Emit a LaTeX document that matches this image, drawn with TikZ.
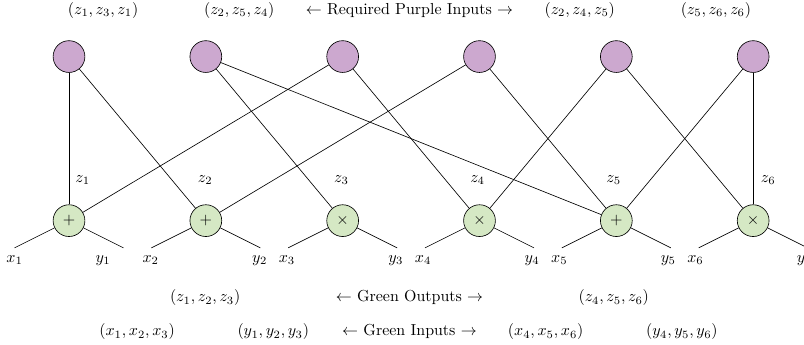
\documentclass[tikz,border=0pt]{standalone}
\usepackage{tikz}
\usetikzlibrary{positioning, calc}
\definecolor{pfill}{RGB}{204,168,207}
\definecolor{gfill}{RGB}{213,232,196}
\tikzset{
  pnode/.style ={draw, circle, fill=pfill, minimum size=0.7cm, inner sep=0pt},
  gnode/.style ={draw, circle, fill=gfill, minimum size=0.7cm, inner sep=0pt},
  lbl/.style   ={inner sep=1pt},
}
\begin{document}
\begin{tikzpicture}
  \useasboundingbox (-1.52,-2.72) rectangle (16.19,4.86);

  % green gates
  \node[gnode]                    (g1) at (0,0) {$+$};
  \node[gnode, right=2.3cm of g1] (g2) {$+$};
  \node[gnode, right=2.3cm of g2] (g3) {$\times$};
  \node[gnode, right=2.3cm of g3] (g4) {$\times$};
  \node[gnode, right=2.3cm of g4] (g5) {$+$};
  \node[gnode, right=2.3cm of g5] (g6) {$\times$};

  % purple inputs
  \node[pnode, above=2.9cm of g1] (p1) {};
  \node[pnode, above=2.9cm of g2] (p2) {};
  \node[pnode, above=2.9cm of g3] (p3) {};
  \node[pnode, above=2.9cm of g4] (p4) {};
  \node[pnode, above=2.9cm of g5] (p5) {};
  \node[pnode, above=2.9cm of g6] (p6) {};

  \node[lbl] (t1) at (0.75,4.63)  {$(z_1, z_3, z_1)$};
  \node[lbl] (t2) at (3.75,4.63)  {$(z_2, z_5, z_4)$};
  \node[lbl] (t3) at (7.5,4.63)   {$\leftarrow$ Required Purple Inputs $\rightarrow$};
  \node[lbl] (t4) at (11.25,4.63) {$(z_2, z_4, z_5)$};
  \node[lbl] (t5) at (14.25,4.63) {$(z_5, z_6, z_6)$};

  % wires
  \draw (p1) -- (g1);
  \draw (p1) -- (g2);
  \draw (p2) -- (g3);
  \draw (p2) -- (g5);
  \draw (p3) -- (g1);
  \draw (p3) -- (g4);
  \draw (p4) -- (g2);
  \draw (p4) -- (g5);
  \draw (p5) -- (g4);
  \draw (p5) -- (g6);
  \draw (p6) -- (g5);
  \draw (p6) -- (g6);

  \node[lbl] (z1) at (0.3,0.9)  {$z_1$};
  \node[lbl] (z2) at (3,0.9)    {$z_2$};
  \node[lbl] (z3) at (6,0.9)    {$z_3$};
  \node[lbl] (z4) at (9,0.9)    {$z_4$};
  \node[lbl] (z5) at (12,0.9)   {$z_5$};
  \node[lbl] (z6) at (15.4,0.9) {$z_6$};

  % legs of the gates
  \foreach \i in {1,...,6} {
    \coordinate (a\i) at ($(g\i)+(-1.2,-0.6)$);
    \coordinate (b\i) at ($(g\i)+(1.2,-0.6)$);
    \draw (g\i) -- (a\i);
    \draw (g\i) -- (b\i);
  }

  \node[lbl] (x1) at (-1.2,-0.87) {$x_1$};
  \node[lbl] (y1) at (0.75,-0.87) {$y_1$};
  \node[lbl] (x2) at (1.8,-0.87)  {$x_2$};
  \node[lbl] (y2) at (4.2,-0.87)  {$y_2$};
  \node[lbl] (x3) at (4.8,-0.87)  {$x_3$};
  \node[lbl] (y3) at (7.2,-0.87)  {$y_3$};
  \node[lbl] (x4) at (7.8,-0.87)  {$x_4$};
  \node[lbl] (y4) at (10.2,-0.87) {$y_4$};
  \node[lbl] (x5) at (10.8,-0.87) {$x_5$};
  \node[lbl] (y5) at (13.2,-0.87) {$y_5$};
  \node[lbl] (x6) at (13.8,-0.87) {$x_6$};
  \node[lbl] (y6) at (16.2,-0.87) {$y_6$};

  \node[lbl] (o1) at (3,-1.7)    {$(z_1, z_2, z_3)$};
  \node[lbl] (o2) at (7.5,-1.7)  {$\leftarrow$ Green Outputs $\rightarrow$};
  \node[lbl] (o3) at (12,-1.7)   {$(z_4, z_5, z_6)$};

  \node[lbl] (i1) at (1.5,-2.45)  {$(x_1, x_2, x_3)$};
  \node[lbl] (i2) at (4.5,-2.45)  {$(y_1, y_2, y_3)$};
  \node[lbl] (i3) at (7.5,-2.45)  {$\leftarrow$ Green Inputs $\rightarrow$};
  \node[lbl] (i4) at (10.5,-2.45) {$(x_4, x_5, x_6)$};
  \node[lbl] (i5) at (13.5,-2.45) {$(y_4, y_5, y_6)$};
\end{tikzpicture}
\end{document}
